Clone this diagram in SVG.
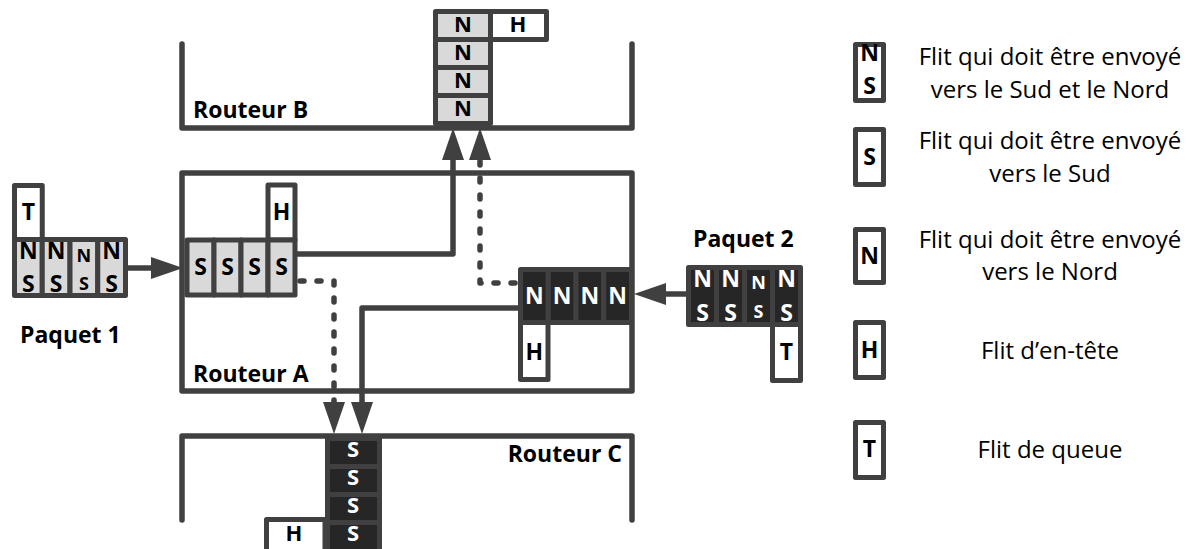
<svg xmlns="http://www.w3.org/2000/svg" width="1203" height="549" viewBox="0 0 1203 549">
<defs>
<style>
.wall{fill:none;stroke:#404040;stroke-width:5.5;stroke-linecap:round;stroke-linejoin:round}
.lt{fill:#d9d9d9;stroke:#404040;stroke-width:5;stroke-linejoin:round}
.dk{fill:#262626;stroke:#404040;stroke-width:5;stroke-linejoin:round}
.wh{fill:#fff;stroke:#404040;stroke-width:5;stroke-linejoin:round}
.lbl{font-family:"Open Sans","DejaVu Sans",sans-serif;font-weight:bold;font-size:23px;fill:#000}
.cl{font-family:"Open Sans","DejaVu Sans",sans-serif;font-weight:bold;font-size:23px;text-anchor:middle;fill:#000}
.col{font-size:22px}
.sm{font-size:18px}
.w{fill:#fff}
.leg{font-family:"Open Sans","DejaVu Sans",sans-serif;font-size:24px;text-anchor:middle;fill:#000}
.conn{fill:none;stroke:#404040;stroke-width:5.5;stroke-linejoin:round;marker-end:url(#ah)}
.dash{stroke-dasharray:4 13;stroke-linecap:round}
</style>
<marker id="ah" markerUnits="userSpaceOnUse" markerWidth="32" markerHeight="24" refX="20" refY="12" orient="auto" viewBox="0 0 32 24">
<path d="M0,1 L32,12 L0,23 z" fill="#404040"/>
</marker>
</defs>

<g id="routerB">
<path class="wall" d="M182,44 V128 H632 V44"/>
<text class="lbl" x="193" y="118">Routeur B</text>
</g>
<g id="routerA">
<rect class="wall" x="182" y="173" width="450" height="218"/>
<text class="lbl" x="193" y="382">Routeur A</text>
</g>
<g id="routerC">
<path class="wall" d="M182,520 V436 H632 V520"/>
<text class="lbl" x="622" y="462" text-anchor="end">Routeur C</text>
</g>

<g id="bufferB">
<rect class="lt" x="435.5" y="11.5" width="55" height="28"/>
<rect class="lt" x="435.5" y="39.5" width="55" height="28"/>
<rect class="lt" x="435.5" y="67.5" width="55" height="28"/>
<rect class="lt" x="435.5" y="95.5" width="55" height="28"/>
<rect class="wh" x="490.5" y="11.5" width="56" height="28"/>
<text class="cl col" x="463" y="32">N</text>
<text class="cl col" x="463" y="60">N</text>
<text class="cl col" x="463" y="88">N</text>
<text class="cl col" x="463" y="116">N</text>
<text class="cl col" x="518" y="32">H</text>
</g>

<g id="bufferA-west">
<rect class="wh" x="268" y="185" width="27" height="55"/>
<rect class="lt" x="187" y="240" width="27" height="55"/>
<rect class="lt" x="214" y="240" width="27" height="55"/>
<rect class="lt" x="241" y="240" width="27" height="55"/>
<rect class="lt" x="268" y="240" width="27" height="55"/>
<text class="cl" x="281.5" y="220">H</text>
<text class="cl" x="200.5" y="275">S</text>
<text class="cl" x="227.5" y="275">S</text>
<text class="cl" x="254.5" y="275">S</text>
<text class="cl" x="281.5" y="275">S</text>
</g>

<g id="bufferA-east">
<rect class="wh" x="520.5" y="322.5" width="27.5" height="57"/>
<rect class="dk" x="520.5" y="269.5" width="27.75" height="53"/>
<rect class="dk" x="548.25" y="269.5" width="27.75" height="53"/>
<rect class="dk" x="576" y="269.5" width="27.75" height="53"/>
<rect class="dk" x="603.75" y="269.5" width="27.75" height="53"/>
<text class="cl" x="534.4" y="360">H</text>
<text class="cl w" x="534.4" y="304">N</text>
<text class="cl w" x="562.1" y="304">N</text>
<text class="cl w" x="589.9" y="304">N</text>
<text class="cl w" x="617.6" y="304">N</text>
</g>

<g id="bufferC">
<rect class="dk" x="327.5" y="438.5" width="52" height="28"/>
<rect class="dk" x="327.5" y="466.5" width="52" height="28"/>
<rect class="dk" x="327.5" y="494.5" width="52" height="28"/>
<rect class="dk" x="327.5" y="522.5" width="52" height="30"/>
<rect class="wh" x="266.5" y="519.5" width="58.5" height="33"/>
<text class="cl col w" x="353" y="457">S</text>
<text class="cl col w" x="353" y="485">S</text>
<text class="cl col w" x="353" y="513">S</text>
<text class="cl col w" x="353" y="541">S</text>
<text class="cl col" x="294" y="541">H</text>
</g>

<g id="paquet1">
<rect class="wh" x="14.5" y="185.5" width="27.75" height="54"/>
<rect class="lt" x="14.5" y="239.5" width="27.75" height="56"/>
<rect class="lt" x="42.25" y="239.5" width="27.75" height="56"/>
<rect class="lt" x="70" y="239.5" width="27.75" height="56"/>
<rect class="lt" x="97.75" y="239.5" width="27.75" height="56"/>
<text class="cl" x="28.4" y="220">T</text>
<text class="cl" x="28.4" y="259">N</text><text class="cl" x="28.4" y="292">S</text>
<text class="cl" x="56.1" y="259">N</text><text class="cl" x="56.1" y="292">S</text>
<text class="cl sm" x="83.9" y="262">N</text><text class="cl sm" x="83.9" y="290">S</text>
<text class="cl" x="111.6" y="259">N</text><text class="cl" x="111.6" y="292">S</text>
<text class="lbl" x="20" y="343">Paquet 1</text>
</g>

<g id="paquet2">
<rect class="wh" x="772.5" y="324.5" width="28" height="56"/>
<rect class="dk" x="688.5" y="267.5" width="28" height="57"/>
<rect class="dk" x="716.5" y="267.5" width="28" height="57"/>
<rect class="dk" x="744.5" y="267.5" width="28" height="57"/>
<rect class="dk" x="772.5" y="267.5" width="28" height="57"/>
<text class="cl" x="786.5" y="360">T</text>
<text class="cl w" x="702.5" y="287">N</text><text class="cl w" x="702.5" y="321">S</text>
<text class="cl w" x="730.5" y="287">N</text><text class="cl w" x="730.5" y="321">S</text>
<text class="cl w sm" x="758.5" y="289">N</text><text class="cl w sm" x="758.5" y="318">S</text>
<text class="cl w" x="786.5" y="287">N</text><text class="cl w" x="786.5" y="321">S</text>
<text class="lbl" x="693" y="247">Paquet 2</text>
</g>

<g id="connectors">
<path class="conn" d="M128,268 H171"/>
<path class="conn" d="M297,254 H453 V140"/>
<path class="conn dash" d="M300,281 H334 V422"/>
<path class="conn dash" d="M515,283 H480 V140"/>
<path class="conn" d="M518,308 H362 V422"/>
<path class="conn" d="M686,294 H646"/>
</g>

<g id="legend-NS">
<rect class="wh" x="855.5" y="44.5" width="28" height="56"/>
<text class="cl" x="869.5" y="61">N</text>
<text class="cl" x="869.5" y="94">S</text>
<text class="leg" x="1050" y="65">Flit qui doit être envoyé</text>
<text class="leg" x="1050" y="98">vers le Sud et le Nord</text>
</g>
<g id="legend-S">
<rect class="wh" x="855.5" y="129.5" width="28" height="55"/>
<text class="cl" x="869.5" y="165">S</text>
<text class="leg" x="1050" y="149">Flit qui doit être envoyé</text>
<text class="leg" x="1050" y="182">vers le Sud</text>
</g>
<g id="legend-N">
<rect class="wh" x="855.5" y="229.5" width="28" height="53"/>
<text class="cl" x="869.5" y="264">N</text>
<text class="leg" x="1050" y="248">Flit qui doit être envoyé</text>
<text class="leg" x="1050" y="280">vers le Nord</text>
</g>
<g id="legend-H">
<rect class="wh" x="855.5" y="322.5" width="28" height="55"/>
<text class="cl" x="869.5" y="358">H</text>
<text class="leg" x="1050" y="359">Flit d’en-tête</text>
</g>
<g id="legend-T">
<rect class="wh" x="855.5" y="422.5" width="28" height="55"/>
<text class="cl" x="869.5" y="457">T</text>
<text class="leg" x="1050" y="458">Flit de queue</text>
</g>
</svg>
